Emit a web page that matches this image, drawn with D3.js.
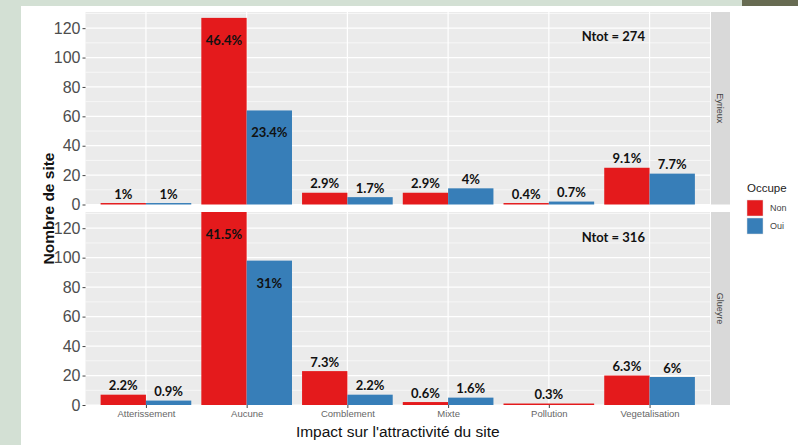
<!DOCTYPE html>
<html>
<head>
<meta charset="utf-8">
<script src="https://cdn.jsdelivr.net/npm/d3@7"></script>
<style>
  body { margin: 0; background: #fff; }
  svg { display: block; }
</style>
</head>
<body>
<div id="chart"></div>
<script>
// categories and facet values
const categories = ['Atterissement', 'Aucune', 'Comblement', 'Mixte', 'Pollution', 'Vegetalisation']
const sites = ['Eyrieux', 'Glueyre']
const ntot = [274, 316]
const groups = ['Non', 'Oui']

const eyrieuxNon = [1, 127, 8, 8, 1, 25]
const eyrieuxOui = [1, 64, 5, 11, 2, 21]
const eyrieuxNonPct = ['1%', '46.4%', '2.9%', '2.9%', '0.4%', '9.1%']
const eyrieuxOuiPct = ['1%', '23.4%', '1.7%', '4%', '0.7%', '7.7%']

const glueyreNon = [7, 131, 23, 2, 1, 20]
const glueyreOui = [3, 98, 7, 5, null, 19]
const glueyreNonPct = ['2.2%', '41.5%', '7.3%', '0.6%', '0.3%', '6.3%']
const glueyreOuiPct = ['0.9%', '31%', '2.2%', '1.6%', null, '6%']

const yTicks = [0, 20, 40, 60, 80, 100, 120]
const yMinor = [10, 30, 50, 70, 90, 110, 130]

const colors = { Non: '#E41A1C', Oui: '#377EB8' }

const width = 798, height = 445
const svg = d3.select('#chart').append('svg')
    .attr('width', width)
    .attr('height', height)

// page frame (slide background)
svg.append('rect').attr('x', 0).attr('y', 0).attr('width', width).attr('height', height).attr('fill', '#fff')
svg.append('rect').attr('x', 0).attr('y', 0).attr('width', 21).attr('height', height).attr('fill', '#D3E0D4')
svg.append('rect').attr('x', 0).attr('y', 0).attr('width', 742).attr('height', 6).attr('fill', '#D3E0D4')
svg.append('rect').attr('x', 742).attr('y', 0).attr('width', 56).attr('height', 6).attr('fill', '#676B52')

const panelLeft = 85.5, panelRight = 710
const panels = [
    { top: 12, bottom: 204.5 },
    { top: 212, bottom: 405 }
]
const stripW = 19

const xScale = d3.scalePoint()
    .domain(categories)
    .range([panelLeft, panelRight])
    .padding(0.6)
const step = xScale.step()
const dodgeW = step * 0.9

const facetData = [
    { non: eyrieuxNon, oui: eyrieuxOui, nonPct: eyrieuxNonPct, ouiPct: eyrieuxOuiPct },
    { non: glueyreNon, oui: glueyreOui, nonPct: glueyreNonPct, ouiPct: glueyreOuiPct }
]

facetData.forEach((fd, p) => {
    const panel = panels[p]
    const yScale = d3.scaleLinear()
        .domain([0, 131])
        .range([panel.bottom, panel.top])

    const g = svg.append('g')

    g.append('rect')
        .attr('x', panelLeft).attr('y', panel.top)
        .attr('width', panelRight - panelLeft).attr('height', panel.bottom - panel.top)
        .attr('fill', '#EBEBEB')

    // minor grid
    g.selectAll('.minor').data(yMinor.filter(v => v <= 131)).join('line')
        .attr('x1', panelLeft).attr('x2', panelRight)
        .attr('y1', d => yScale(d)).attr('y2', d => yScale(d))
        .attr('stroke', '#fff').attr('stroke-width', 0.6)
    // major grid
    g.selectAll('.major').data(yTicks).join('line')
        .attr('x1', panelLeft).attr('x2', panelRight)
        .attr('y1', d => yScale(d)).attr('y2', d => yScale(d))
        .attr('stroke', '#fff').attr('stroke-width', 1.2)
    g.selectAll('.vmajor').data(categories).join('line')
        .attr('x1', d => xScale(d)).attr('x2', d => xScale(d))
        .attr('y1', panel.top).attr('y2', panel.bottom)
        .attr('stroke', '#fff').attr('stroke-width', 1.2)

    // bars
    const bars = []
    categories.forEach((c, i) => {
        const present = groups.filter(gr => (gr === 'Non' ? fd.non[i] : fd.oui[i]) != null)
        const w = dodgeW / present.length
        present.forEach((gr, k) => {
            bars.push({
                cat: c, group: gr,
                value: gr === 'Non' ? fd.non[i] : fd.oui[i],
                label: gr === 'Non' ? fd.nonPct[i] : fd.ouiPct[i],
                x: xScale(c) - dodgeW / 2 + k * w,
                w: w
            })
        })
    })

    g.selectAll('.bar').data(bars).join('rect')
        .attr('x', d => d.x)
        .attr('y', d => yScale(d.value))
        .attr('width', d => d.w)
        .attr('height', d => yScale(0) - yScale(d.value))
        .attr('fill', d => colors[d.group])

    g.selectAll('.lab').data(bars).join('text')
        .attr('x', d => d.x + d.w / 2)
        .attr('y', d => d.value > 50 ? yScale(d.value) + 27 : yScale(d.value) - 4.5)
        .attr('text-anchor', 'middle')
        .attr('font-family', 'Lato, "Open Sans", sans-serif')
        .attr('font-weight', 'bold')
        .attr('font-size', 13)
        .attr('fill', '#111')
        .text(d => d.label)

    // Ntot annotation
    g.append('text')
        .attr('x', xScale('Pollution') + step * 0.64)
        .attr('y', yScale(114) + 4.5)
        .attr('text-anchor', 'middle')
        .attr('font-family', 'Lato, "Open Sans", sans-serif')
        .attr('font-weight', 'bold')
        .attr('font-size', 13)
        .attr('fill', '#111')
        .text('Ntot = ' + ntot[p])

    // y axis
    const yAxis = d3.axisLeft(yScale).tickValues(yTicks).tickSize(3).tickPadding(2)
    const ya = g.append('g')
        .attr('transform', 'translate(' + panelLeft + ',0)')
        .call(yAxis)
    ya.select('.domain').remove()
    ya.selectAll('line').attr('stroke', '#444')
    ya.selectAll('text')
        .attr('font-family', '"Liberation Sans", Arial, sans-serif')
        .attr('font-size', 16)
        .attr('fill', '#4D4D4D')

    // strip
    g.append('rect')
        .attr('x', panelRight + 1).attr('y', panel.top)
        .attr('width', stripW).attr('height', panel.bottom - panel.top)
        .attr('fill', '#D9D9D9')
    g.append('text')
        .attr('transform', 'translate(' + (panelRight + 1 + stripW / 2) + ',' + ((panel.top + panel.bottom) / 2) + ') rotate(90)')
        .attr('text-anchor', 'middle')
        .attr('dy', '0.35em')
        .attr('font-family', '"Liberation Sans", Arial, sans-serif')
        .attr('font-size', 9)
        .attr('fill', '#444')
        .text(sites[p])
})

// x axis under bottom panel
const xAxis = d3.axisBottom(xScale).tickSize(3).tickPadding(2)
const xa = svg.append('g')
    .attr('transform', 'translate(0,' + panels[1].bottom + ')')
    .call(xAxis)
xa.select('.domain').remove()
xa.selectAll('line').attr('stroke', '#444')
xa.selectAll('text')
    .attr('font-family', '"Liberation Sans", Arial, sans-serif')
    .attr('font-size', 9.5)
    .attr('fill', '#666')

// axis titles
svg.append('text')
    .attr('x', (panelLeft + panelRight) / 2)
    .attr('y', 437)
    .attr('text-anchor', 'middle')
    .attr('font-family', '"Liberation Sans", Arial, sans-serif')
    .attr('font-size', 15.5)
    .attr('fill', '#111')
    .text("Impact sur l'attractivité du site")

svg.append('text')
    .attr('transform', 'translate(54,' + ((panels[0].top + panels[1].bottom) / 2) + ') rotate(-90)')
    .attr('text-anchor', 'middle')
    .attr('font-family', '"Liberation Sans", Arial, sans-serif')
    .attr('font-weight', 'bold')
    .attr('font-size', 15.5)
    .attr('fill', '#111')
    .text('Nombre de site')

// legend
const legend = svg.append('g').attr('transform', 'translate(747,0)')
legend.append('text')
    .attr('x', 0).attr('y', 192)
    .attr('font-family', '"Liberation Sans", Arial, sans-serif')
    .attr('font-size', 11.5)
    .attr('fill', '#222')
    .text('Occupe')
groups.forEach((gr, i) => {
    legend.append('rect')
        .attr('x', 0).attr('y', 200 + i * 18)
        .attr('width', 16).attr('height', 16)
        .attr('fill', colors[gr])
        .attr('stroke', '#ddd').attr('stroke-width', 0.5)
    legend.append('text')
        .attr('x', 23).attr('y', 208 + i * 18)
        .attr('dy', '0.35em')
        .attr('font-family', '"Liberation Sans", Arial, sans-serif')
        .attr('font-size', 9)
        .attr('fill', '#444')
        .text(gr)
})
</script>
</body>
</html>
